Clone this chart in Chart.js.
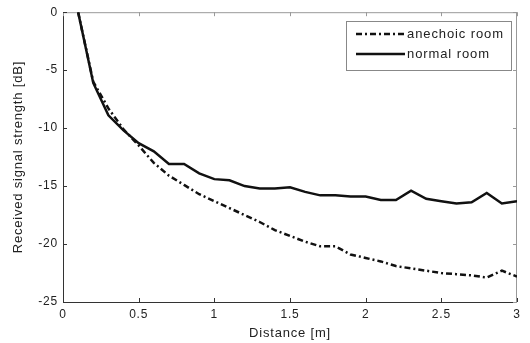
<!DOCTYPE html>
<html><head><meta charset="utf-8">
<script src="https://cdn.jsdelivr.net/npm/chart.js@4/dist/chart.umd.min.js"></script>
<style>html,body{margin:0;padding:0;background:#fff}</style>
</head><body>
<canvas id="c" width="530" height="343" style="display:block;width:530px;height:343px"></canvas>
<script>
const distances = [0.1,0.2,0.3,0.4,0.5,0.6,0.7,0.8,0.9,1.0,1.1,1.2,1.3,1.4,1.5,1.6,1.7,1.8,1.9,2.0,2.1,2.2,2.3,2.4,2.5,2.6,2.7,2.8,2.9,3.0];
const anechoicRoom = [0,-6.0,-8.3,-10.1,-11.5,-13.0,-14.1,-14.9,-15.7,-16.3,-16.9,-17.5,-18.1,-18.8,-19.3,-19.8,-20.2,-20.2,-20.9,-21.2,-21.5,-21.9,-22.1,-22.3,-22.5,-22.6,-22.7,-22.9,-22.3,-22.8];
const normalRoom = [0,-6.1,-8.9,-10.2,-11.3,-12.0,-13.1,-13.1,-13.9,-14.4,-14.5,-15.0,-15.2,-15.2,-15.1,-15.5,-15.8,-15.8,-15.9,-15.9,-16.2,-16.2,-15.4,-16.1,-16.3,-16.5,-16.4,-15.6,-16.5,-16.3];
const seriesLabels = ['anechoic room','normal room'];
const xTicks = [0,0.5,1,1.5,2,2.5,3];
const yTicks = [0,-5,-10,-15,-20,-25];
const xTitle = 'Distance [m]';
const yTitle = 'Received signal strength [dB]';

const FONT = '"Liberation Sans", Arial, sans-serif';
const toPts = ys => distances.map((d,i)=>({x:d,y:ys[i]}));

const frame = {
  id:'frame',
  beforeDraw(chart){ chart.ctx.letterSpacing='0.8px'; },
  beforeDatasetsDraw(chart){
    const {ctx, chartArea:{left,right,top,bottom}, scales:{x,y}} = chart;
    ctx.save();
    ctx.lineWidth=1;
    ctx.strokeStyle='#999';
    ctx.beginPath();
    ctx.moveTo(left, top+0.5); ctx.lineTo(right-0.5, top+0.5); ctx.lineTo(right-0.5, bottom);
    ctx.stroke();
    ctx.strokeStyle='#333';
    ctx.beginPath();
    ctx.moveTo(left+0.5, top); ctx.lineTo(left+0.5, bottom+0.5); ctx.lineTo(right, bottom+0.5);
    ctx.stroke();
    const tl=4;
    x.ticks.forEach(t=>{
      const p=Math.round(x.getPixelForValue(t.value))+0.5;
      ctx.strokeStyle='#333';
      ctx.beginPath(); ctx.moveTo(p,bottom); ctx.lineTo(p,bottom-tl); ctx.stroke();
      ctx.strokeStyle='#999';
      ctx.beginPath(); ctx.moveTo(p,top); ctx.lineTo(p,top+tl); ctx.stroke();
    });
    y.ticks.forEach(t=>{
      const p=Math.round(y.getPixelForValue(t.value))+0.5;
      ctx.strokeStyle='#333';
      ctx.beginPath(); ctx.moveTo(left,p); ctx.lineTo(left+tl,p); ctx.stroke();
      ctx.strokeStyle='#999';
      ctx.beginPath(); ctx.moveTo(right,p); ctx.lineTo(right-tl,p); ctx.stroke();
    });
    ctx.restore();
  },
  afterDatasetsDraw(chart){
    const {ctx} = chart;
    ctx.save();
    const bx=346.5, by=21.5, bw=165, bh=49;
    ctx.fillStyle='#fff';
    ctx.fillRect(bx,by,bw,bh);
    ctx.strokeStyle='#888'; ctx.lineWidth=1;
    ctx.strokeRect(bx,by,bw,bh);
    ctx.font='13px '+FONT;
    ctx.letterSpacing='0.9px';
    ctx.textBaseline='middle';
    ctx.textAlign='left';
    chart.data.datasets.forEach((ds,i)=>{
      const yy=34+i*20;
      ctx.strokeStyle=ds.borderColor; ctx.lineWidth=ds.borderWidth;
      ctx.setLineDash(ds.borderDash||[]);
      ctx.beginPath(); ctx.moveTo(356,yy); ctx.lineTo(405,yy); ctx.stroke();
      ctx.setLineDash([]);
      ctx.fillStyle='#222';
      ctx.fillText(ds.label,407,yy);
    });
    ctx.restore();
  }
};

new Chart(document.getElementById('c'),{
  type:'scatter',
  data:{datasets:[
    {label:seriesLabels[0],data:toPts(anechoicRoom),showLine:true,borderColor:'#111',borderWidth:2.5,borderDash:[6,3,2,3],pointRadius:0,fill:false,tension:0},
    {label:seriesLabels[1],data:toPts(normalRoom),showLine:true,borderColor:'#111',borderWidth:2.5,pointRadius:0,fill:false,tension:0}
  ]},
  options:{
    responsive:false,animation:false,
    layout:{padding:{top:12,right:13,left:0,bottom:0}},
    plugins:{legend:{display:false},tooltip:{enabled:false}},
    scales:{
      x:{type:'linear',min:0,max:3,
        afterBuildTicks:s=>{s.ticks=xTicks.map(v=>({value:v}));},
        afterFit:s=>{s.height=41;},
        grid:{display:false,drawTicks:false},border:{display:false},
        ticks:{padding:5,color:'#222',font:{family:FONT,size:12},maxRotation:0,autoSkip:false,callback:v=>String(v)},
        title:{display:true,text:xTitle,color:'#222',font:{family:FONT,size:13},padding:{top:0,bottom:2}}
      },
      y:{type:'linear',min:-25,max:0,
        afterBuildTicks:s=>{s.ticks=yTicks.map(v=>({value:v}));},
        afterFit:s=>{s.width=63;},
        grid:{display:false,drawTicks:false},border:{display:false},
        ticks:{padding:5,color:'#222',font:{family:FONT,size:12},autoSkip:false,callback:v=>String(v)},
        title:{display:true,text:yTitle,color:'#222',font:{family:FONT,size:13},padding:{top:11,bottom:0}}
      }
    }
  },
  plugins:[frame]
});
</script>
</body></html>
